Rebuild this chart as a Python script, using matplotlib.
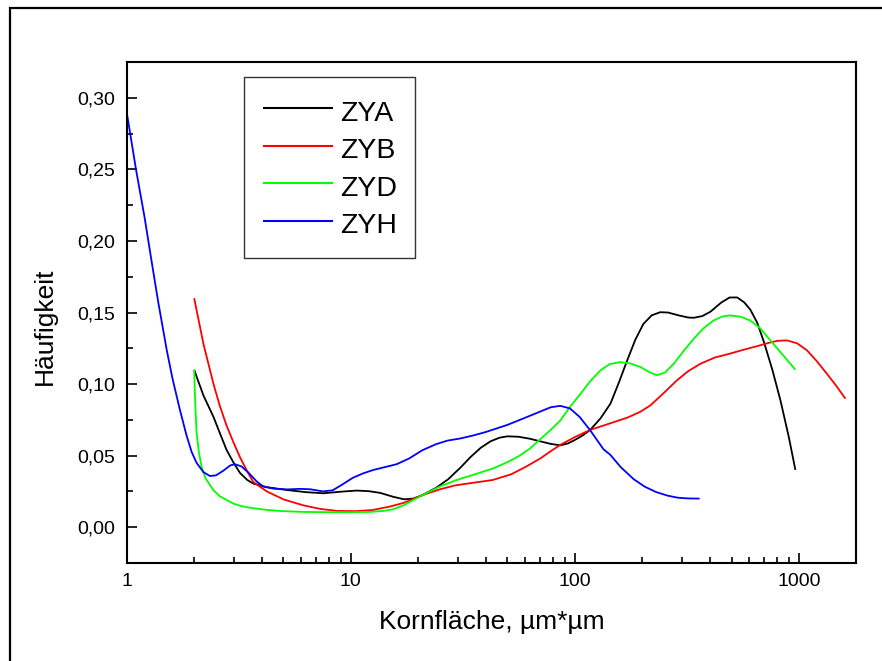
import matplotlib
matplotlib.use("Agg")
import matplotlib.pyplot as plt
from matplotlib.ticker import LogLocator, FixedLocator, MultipleLocator, FuncFormatter, NullFormatter
from matplotlib.patches import Rectangle

plt.rcParams['font.family'] = ['Liberation Sans', 'DejaVu Sans']

# Grain-area distributions (area in µm*µm, relative frequency)
zya_x = [2.0, 2.2, 2.44, 2.6, 2.79, 3.0, 3.2, 3.45, 3.67, 4.2, 5.18, 6.3, 7.55, 9.0, 10.6, 12.0, 13.5, 15.5,
         17.3, 19.0, 20.8, 24, 27.2, 31, 34.2, 38, 42, 46, 50, 56, 63, 70, 78, 86, 93, 100, 108, 117, 130, 144,
         157, 171, 186, 202, 220, 240, 260, 290, 320, 339, 370, 402, 450, 490, 530, 570, 606, 650, 695, 760,
         826, 900, 963]
zya_y = [0.110, 0.092, 0.077, 0.066, 0.054, 0.045, 0.038, 0.033, 0.0305, 0.028, 0.026, 0.0245, 0.0237, 0.0248,
         0.0256, 0.0252, 0.0240, 0.0212, 0.0195, 0.0200, 0.0223, 0.0275, 0.0335, 0.042, 0.0490, 0.0555, 0.0600,
         0.0625, 0.0635, 0.0632, 0.0618, 0.0600, 0.0582, 0.0572, 0.0585, 0.0610, 0.0640, 0.0680, 0.0760, 0.0863,
         0.1010, 0.1165, 0.131, 0.142, 0.148, 0.1502, 0.1500, 0.1480, 0.1465, 0.1463, 0.1475, 0.1505, 0.1570,
         0.1605, 0.1605, 0.1570, 0.1520, 0.1430, 0.1300, 0.1100, 0.0886, 0.0630, 0.040]

zyb_x = [2.0, 2.2, 2.44, 2.6, 2.79, 3.0, 3.2, 3.45, 3.67, 4.22, 5.0, 6.13, 7.3, 8.66, 10.5, 12.5, 15, 17.2,
         20.8, 25, 29.4, 35, 43, 52, 60, 70, 79, 86, 100, 117, 140, 171, 195, 217, 250, 285, 320, 363, 420,
         490, 566, 650, 720, 800, 884, 980, 1086, 1200, 1334, 1470, 1610]
zyb_y = [0.160, 0.128, 0.100, 0.085, 0.071, 0.059, 0.049, 0.039, 0.0316, 0.0250, 0.0195, 0.0153, 0.0128,
         0.0114, 0.0112, 0.0120, 0.0145, 0.0170, 0.0223, 0.0265, 0.0293, 0.0310, 0.0330, 0.0370, 0.0420,
         0.0480, 0.0537, 0.0575, 0.0630, 0.0680, 0.0720, 0.0765, 0.0805, 0.0851, 0.0940, 0.1026, 0.1090,
         0.1142, 0.1185, 0.1212, 0.1240, 0.1265, 0.1285, 0.1302, 0.1305, 0.1285, 0.1235, 0.1160, 0.1070,
         0.0985, 0.0898]

zyd_x = [2.0, 2.01, 2.03, 2.05, 2.1, 2.16, 2.25, 2.44, 2.61, 2.99, 3.3, 3.67, 4.22, 5.0, 6.13, 8.0, 10.0,
         12.2, 14.0, 15.4, 17.2, 19.0, 20.8, 25, 29.4, 35, 43, 50, 56, 63, 70, 78, 86, 95, 106, 117, 130, 143,
         159, 176, 196, 214, 232, 252, 276, 305, 339, 375, 415, 455, 493, 550, 606, 670, 745, 850, 963]
zyd_y = [0.110, 0.098, 0.080, 0.066, 0.052, 0.042, 0.034, 0.0258, 0.0215, 0.0165, 0.0145, 0.0133, 0.0121,
         0.0112, 0.0107, 0.0105, 0.0105, 0.0107, 0.0114, 0.0125, 0.0153, 0.0190, 0.0223, 0.0285, 0.0328,
         0.0365, 0.0410, 0.0455, 0.0495, 0.0550, 0.0615, 0.0680, 0.0745, 0.0840, 0.0933, 0.1020, 0.1096,
         0.1140, 0.1153, 0.1145, 0.1119, 0.1085, 0.1062, 0.1080, 0.1142, 0.1230, 0.1317, 0.1390, 0.1444,
         0.1472, 0.1480, 0.1470, 0.1444, 0.1390, 0.1305, 0.1200, 0.110]

zyh_x = [1.0, 1.1, 1.2, 1.3, 1.38, 1.45, 1.51, 1.6, 1.73, 1.85, 1.95, 2.05, 2.2, 2.35, 2.5, 2.7, 2.9, 3.04,
         3.25, 3.5, 3.8, 4.06, 4.5, 5.2, 5.94, 6.6, 7.52, 8.3, 9.2, 10.2, 11.3, 12.6, 14.2, 16.0, 18.2, 20.8,
         24, 27, 30.8, 35, 40, 50, 60, 70, 78, 86, 95, 105, 117, 134, 144, 160, 183, 205, 230, 260, 288, 320,
         360]
zyh_y = [0.290, 0.250, 0.217, 0.183, 0.158, 0.139, 0.1235, 0.104, 0.0816, 0.064, 0.0525, 0.045, 0.0385,
         0.0358, 0.0362, 0.0395, 0.0432, 0.0440, 0.0425, 0.038, 0.032, 0.0285, 0.0270, 0.0264, 0.0268, 0.0265,
         0.0250, 0.0258, 0.0300, 0.0345, 0.0375, 0.0400, 0.0420, 0.0440, 0.0480, 0.0537, 0.0580, 0.0605,
         0.0620, 0.0640, 0.0665, 0.0715, 0.0765, 0.0808, 0.0838, 0.0848, 0.0830, 0.0770, 0.0677, 0.0545,
         0.0505, 0.0420, 0.0335, 0.0283, 0.0246, 0.0220, 0.0206, 0.0201, 0.0200]

series = [("ZYA", zya_x, zya_y, "#000000"),
          ("ZYB", zyb_x, zyb_y, "#ff0000"),
          ("ZYD", zyd_x, zyd_y, "#00ff00"),
          ("ZYH", zyh_x, zyh_y, "#0000ff")]

x_tick_labels = ["1", "10", "100", "1000"]

fig = plt.figure(figsize=(8.82, 6.61), dpi=100)
fig.patch.set_facecolor("white")

# page frame around the whole graph
fig.add_artist(Rectangle((10 / 882, -0.1), 1.2, 1.1 - 8 / 661, transform=fig.transFigure,
                         fill=False, edgecolor="black", linewidth=1.6, clip_on=False))

ax = fig.add_axes([126.7 / 882, (661 - 563) / 661, (856 - 126.7) / 882, (563 - 62) / 661])

for name, xs, ys, col in series:
    ax.plot(xs, ys, color=col, linewidth=1.3, label=name,
            solid_joinstyle="round", solid_capstyle="butt")

ax.set_xscale("log")
ax.set_xlim(1, 1795)
ax.set_ylim(-0.025, 0.325)

ax.xaxis.set_major_locator(FixedLocator([1, 10, 100, 1000]))
ax.xaxis.set_major_formatter(FuncFormatter(
    lambda v, p: x_tick_labels[p] if p is not None and p < len(x_tick_labels) else f"{v:g}"))
ax.xaxis.set_minor_locator(LogLocator(base=10, subs=range(2, 10), numticks=20))
ax.xaxis.set_minor_formatter(NullFormatter())

ax.yaxis.set_major_locator(FixedLocator([0.0, 0.05, 0.10, 0.15, 0.20, 0.25, 0.30]))
ax.yaxis.set_minor_locator(MultipleLocator(0.025))
ax.yaxis.set_major_formatter(FuncFormatter(lambda v, p: f"{v:.2f}".replace(".", ",")))

ax.tick_params(which="both", direction="in", top=False, right=False, width=1.2, labelsize=14)
ax.tick_params(which="major", length=7)
ax.tick_params(which="minor", length=4)
ax.tick_params(axis="y", pad=8)
ax.tick_params(axis="x", pad=7)

for side in ["left", "bottom", "right", "top"]:
    ax.spines[side].set_linewidth(1.5)

ax.set_xlabel("Kornfläche, µm*µm", fontsize=19)
ax.set_ylabel("Häufigkeit", fontsize=19)
ax.xaxis.set_label_coords(0.5, -0.094)
ax.yaxis.set_label_coords(-0.096, 0.473)

leg = ax.legend(loc="upper left", bbox_to_anchor=(0.1608, 0.970), borderaxespad=0,
                fontsize=20.5, frameon=True, fancybox=False, edgecolor="black",
                handlelength=2.45, handletextpad=0.25, handleheight=1.31,
                labelspacing=0.22, borderpad=0.66)
leg.get_frame().set_linewidth(1.0)
for line in leg.get_lines():
    line.set_linewidth(1.5)

fig.savefig("out.png", dpi=100)
